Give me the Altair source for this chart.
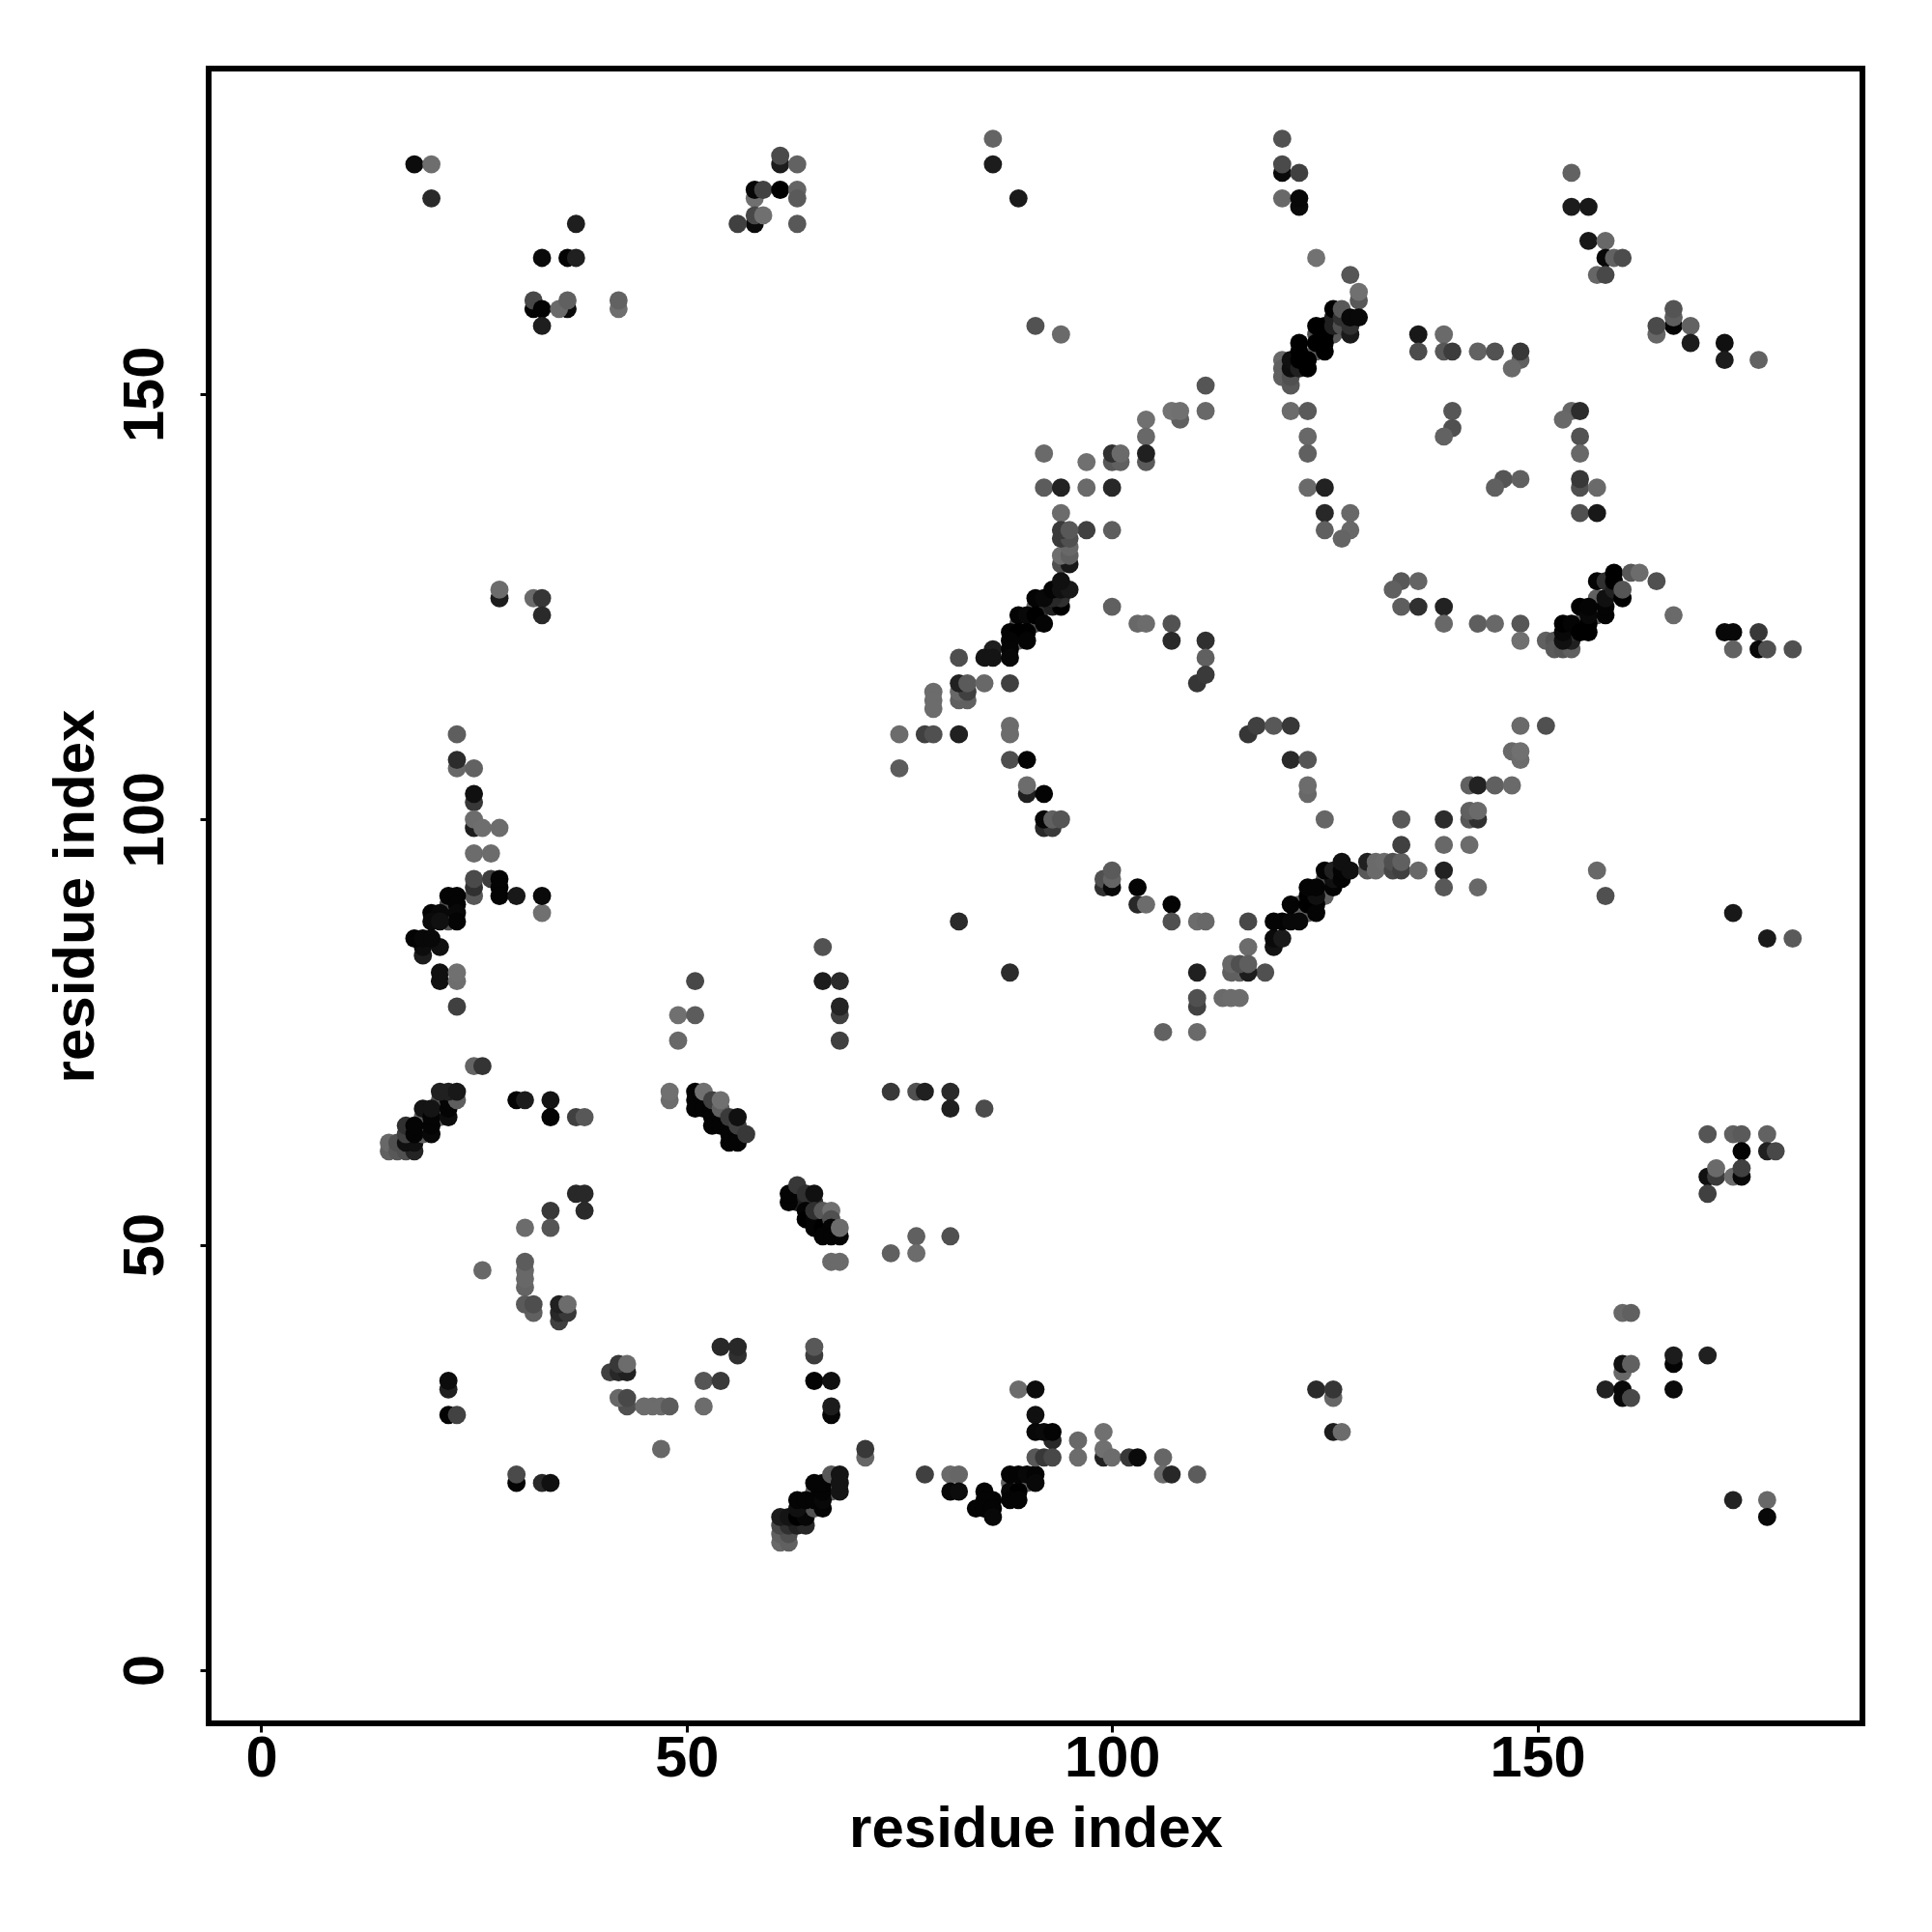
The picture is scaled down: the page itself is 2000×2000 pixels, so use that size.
import altair as alt
import pandas as pd

# Each contact: (residue x, residue y, grey level 0-255)
top_left = [
    (18,177,0x0c),(20,177,0x6e),(20,173,0x2a),(37,170,0x1e),(33,166,0x0a),(36,166,0x04),(37,166,0x20),
    (32,160,0x04),(32,161,0x48),(33,160,0x04),(33,158,0x1e),(36,160,0x0a),(35,160,0x6a),(36,161,0x60),
    (42,160,0x6e),(42,161,0x62),
    (61,177,0x1c),(61,178,0x4a),(63,177,0x62),(58,173,0x70),(58,174,0x06),(59,174,0x42),(61,174,0x00),
    (63,174,0x64),(63,173,0x5a),(58,170,0x0a),(58,171,0x48),(59,171,0x70),(56,170,0x40),(63,170,0x58),
    (28,126,0x1c),(28,127,0x6c),(32,126,0x6a),(33,126,0x36),(33,124,0x2a),
]
top_middle = [
    (86,180,0x64),(86,177,0x1c),(89,173,0x1a),(120,180,0x52),(120,176,0x0a),(120,177,0x4a),(122,176,0x40),
    (120,173,0x68),(122,172,0x0a),(122,173,0x08),(124,166,0x72),(128,164,0x56),(129,161,0x58),(129,162,0x70),
    (91,158,0x52),(94,157,0x6a),(111,151,0x55),(111,148,0x68),(108,147,0x60),(107,148,0x72),(108,148,0x70),
    (104,147,0x70),(104,145,0x68),(104,142,0x5a),(104,143,0x20),(100,142,0x58),(101,142,0x60),(100,143,0x30),
    (101,143,0x6a),(92,143,0x6a),(97,142,0x70),(92,139,0x5c),(94,139,0x22),(97,139,0x6a),(100,139,0x28),
    (121,148,0x6c),(123,148,0x5a),(123,145,0x68),(123,143,0x60),(123,139,0x6a),(125,139,0x22),(125,136,0x28),
    (125,134,0x60),(128,136,0x68),(128,134,0x68),(127,133,0x64),(94,136,0x6c),(97,134,0x40),(100,134,0x5e),
    (94,130,0x50),(95,130,0x18),(94,131,0x6e),(95,131,0x60),(95,132,0x68),(94,133,0x3a),(95,133,0x50),
    (94,134,0x3a),(95,134,0x58),
]
blob_upper = [
    (120,154,0x68),(120,153,0x60),(120,152,0x60),(121,151,0x58),(121,152,0x50),(121,153,0x0e),(121,154,0x10),
    (122,153,0x20),(124,157,0x50),(124,155,0x60),(126,157,0x58),(122,156,0x00),(122,155,0x00),(122,154,0x00),
    (123,154,0x00),(123,153,0x00),(124,158,0x00),(124,156,0x00),(125,158,0x00),(125,157,0x00),(125,156,0x00),
    (125,155,0x00),(126,158,0x20),(126,159,0x20),(126,160,0x00),(127,158,0x50),(127,159,0x30),(127,160,0x58),
    (128,157,0x1a),(128,158,0x30),(128,159,0x08),(129,159,0x08),
]
blob_middle = [
    (91,125,0x60),(91,123,0x50),(89,123,0x50),(89,121,0x60),(92,125,0x30),(93,125,0x20),(94,125,0x00),
    (94,126,0x30),(93,126,0x28),(91,126,0x04),(92,126,0x08),(93,127,0x04),(94,127,0x10),(95,127,0x18),
    (94,128,0x10),(89,124,0x04),(90,124,0x08),(91,124,0x00),(92,123,0x04),(88,122,0x04),(89,122,0x00),
    (90,122,0x00),(88,121,0x04),(90,121,0x04),(86,120,0x1e),(88,120,0x04),(85,119,0x14),(86,119,0x14),
    (88,119,0x08),(82,119,0x4e),
]
middle = [
    (82,114,0x60),(83,114,0x60),(82,115,0x68),(83,115,0x40),(82,116,0x20),(83,116,0x5a),(85,116,0x68),(88,116,0x40),
    (79,115,0x6c),(79,114,0x6c),(79,113,0x6c),(75,110,0x6c),(78,110,0x40),(79,110,0x50),(82,110,0x20),
    (88,111,0x6c),(88,110,0x6c),(75,106,0x5c),(88,107,0x4e),(90,107,0x04),(90,103,0x20),(90,104,0x6c),(92,103,0x04),
    (92,99,0x28),(93,99,0x3a),(92,100,0x06),(93,100,0x60),(94,100,0x55),
    (107,123,0x52),(107,121,0x2a),(111,121,0x30),(100,125,0x60),(103,123,0x68),(104,123,0x6c),
    (111,119,0x60),(110,116,0x36),(111,117,0x3a),(116,110,0x36),(117,111,0x40),(119,111,0x58),(121,111,0x38),
    (121,107,0x2a),(123,107,0x55),(123,103,0x68),(123,104,0x6c),(125,100,0x66),
    (99,92,0x30),(99,93,0x50),(100,92,0x08),(100,93,0x64),(100,94,0x5a),(103,92,0x04),(103,90,0x28),(104,90,0x6c),
    (107,90,0x04),(107,88,0x50),(110,88,0x6c),(111,88,0x68),(116,88,0x48),(82,88,0x2a),(88,82,0x2c),(110,82,0x20),
    (118,82,0x50),(116,85,0x6c),(114,82,0x60),(115,82,0x60),(116,82,0x1c),(114,83,0x68),(115,83,0x50),(116,83,0x5e),
    (110,78,0x42),(110,79,0x50),(113,79,0x6a),(114,79,0x6c),(115,79,0x6c),(106,75,0x62),(110,75,0x6a),
    (74,68,0x38),(77,68,0x50),(78,68,0x20),(81,68,0x2a),(81,66,0x20),(85,66,0x4c),
]
blob_lower = [
    (122,89,0x60),(123,89,0x60),(122,90,0x60),(125,93,0x50),(125,91,0x60),(119,85,0x12),(119,86,0x0a),(120,86,0x1a),
    (119,88,0x04),(120,88,0x04),(121,88,0x08),(122,88,0x08),(121,90,0x04),(123,90,0x00),(124,90,0x00),(124,89,0x04),
    (123,91,0x00),(124,91,0x10),(123,92,0x04),(124,92,0x04),(126,92,0x04),(126,93,0x10),(125,94,0x04),(126,94,0x20),
    (127,93,0x04),(127,94,0x04),(127,95,0x10),(128,94,0x10),
    (130,94,0x58),(130,95,0x20),(131,94,0x6a),(131,95,0x6a),(132,95,0x6c),(133,94,0x48),(133,95,0x50),
    (134,94,0x40),(134,95,0x60),(136,94,0x68),(139,94,0x22),(139,92,0x58),(143,92,0x68),
]
upper_right = [
    (154,176,0x62),(154,172,0x1c),(156,172,0x18),(156,168,0x18),(158,168,0x68),(158,166,0x08),(159,166,0x62),
    (160,166,0x4c),(157,164,0x66),(158,164,0x48),(166,158,0x04),(166,159,0x5e),(166,160,0x54),(164,157,0x66),
    (164,158,0x4a),(168,158,0x62),(168,156,0x1c),(172,156,0x10),(172,154,0x1c),(176,154,0x62),
    (136,157,0x18),(136,155,0x4c),(139,157,0x6a),(139,155,0x58),(140,155,0x3c),(143,155,0x62),(145,155,0x52),
    (148,154,0x60),(148,155,0x38),(147,153,0x6a),(140,148,0x56),(140,146,0x50),(139,145,0x62),
    (154,148,0x66),(155,148,0x2c),(153,147,0x68),(155,145,0x52),(155,143,0x68),(146,140,0x55),(148,140,0x60),
    (145,139,0x60),(155,139,0x50),(155,140,0x38),(157,139,0x6a),(155,136,0x50),(157,136,0x18),
    (134,128,0x58),(136,128,0x64),(133,127,0x60),(134,125,0x5e),(136,125,0x30),(139,125,0x22),(139,123,0x68),
    (143,123,0x5e),(145,123,0x68),(148,123,0x56),(148,121,0x70),
]
blob_right = [
    (151,121,0x60),(152,121,0x55),(152,120,0x5a),(153,120,0x55),(154,120,0x60),(155,123,0x60),(157,126,0x60),
    (157,124,0x60),(154,121,0x20),(154,122,0x30),(153,121,0x10),(153,122,0x08),(153,123,0x00),(154,123,0x04),
    (155,122,0x00),(155,125,0x00),(156,122,0x00),(156,123,0x00),(156,124,0x08),(156,125,0x04),(158,124,0x04),
    (158,125,0x04),(158,126,0x10),(157,128,0x04),(158,128,0x30),(159,127,0x20),(159,128,0x00),(159,129,0x00),
    (160,126,0x00),(160,127,0x55),(161,129,0x58),(162,129,0x6c),(164,128,0x50),(166,124,0x6a),
    (172,122,0x08),(173,122,0x08),(176,122,0x38),(173,120,0x62),(176,120,0x08),(177,120,0x50),(180,120,0x50),
]
right_middle = [
    (134,100,0x58),(139,100,0x2c),(142,100,0x58),(143,100,0x30),(142,101,0x60),(143,101,0x6a),(134,97,0x40),
    (139,97,0x68),(142,97,0x6c),(142,104,0x60),(143,104,0x22),(145,104,0x60),(147,104,0x6a),(147,108,0x68),
    (148,107,0x6c),(148,108,0x70),(148,111,0x6a),(151,111,0x50),(157,94,0x68),(158,91,0x50),(173,89,0x18),
    (177,86,0x1a),(180,86,0x5a),
    (170,63,0x55),(173,63,0x60),(174,63,0x5a),(177,63,0x62),(174,61,0x04),(177,61,0x20),(178,61,0x48),
    (170,58,0x10),(171,58,0x3a),(171,59,0x6a),(173,58,0x6c),(174,58,0x08),(174,59,0x40),(170,56,0x40),
]
lower_right = [
    (160,42,0x68),(161,42,0x60),(160,35,0x68),(160,36,0x10),(161,36,0x60),(158,33,0x22),(160,33,0x08),(160,32,0x08),
    (161,32,0x48),(166,36,0x04),(166,37,0x1c),(166,33,0x0a),(170,37,0x20),(173,20,0x22),(177,20,0x68),(177,18,0x08),
    (124,33,0x2a),(126,32,0x66),(126,33,0x36),(126,28,0x1c),(127,28,0x6c),
]
lower_middle = [
    (74,49,0x60),(77,51,0x60),(77,49,0x6c),(81,51,0x50),(78,23,0x40),(81,23,0x6a),(82,23,0x66),(81,21,0x08),(82,21,0x0c),
    (85,21,0x04),(85,20,0x04),(86,20,0x04),(84,19,0x04),(85,19,0x04),(86,19,0x04),(86,18,0x08),
    (88,22,0x60),(90,22,0x60),(88,21,0x08),(89,21,0x00),(88,20,0x04),(89,20,0x04),(88,23,0x04),(89,23,0x04),
    (90,23,0x08),(91,23,0x04),(91,22,0x08),
    (89,33,0x6c),(91,33,0x0c),(91,30,0x10),(93,27,0x28),(91,28,0x08),(92,28,0x0a),(93,28,0x04),
    (91,25,0x58),(92,25,0x38),(93,25,0x48),(96,27,0x68),(96,25,0x6c),(99,25,0x20),(99,28,0x70),(99,26,0x70),(100,25,0x6c),
    (102,25,0x38),(103,25,0x0a),(106,25,0x66),(106,23,0x6c),(107,23,0x28),(110,23,0x5c),
]
lower_left = [
    (37,56,0x28),(38,56,0x28),(38,54,0x2a),(34,54,0x38),(34,52,0x55),(31,52,0x6c),(26,47,0x68),
    (31,45,0x64),(31,46,0x68),(31,47,0x68),(31,48,0x5c),(32,42,0x60),(31,43,0x5a),(32,43,0x4e),
    (35,41,0x40),(35,42,0x28),(36,42,0x38),(35,43,0x20),(36,43,0x6c),
    (54,38,0x28),(56,37,0x30),(56,38,0x28),(65,37,0x3c),(65,38,0x58),(65,34,0x04),(67,34,0x10),(67,30,0x06),(67,31,0x1c),
    (52,34,0x55),(54,34,0x3a),(52,31,0x6c),
    (41,35,0x40),(42,35,0x28),(43,35,0x20),(42,36,0x38),(43,36,0x6c),(43,31,0x50),(42,32,0x68),(43,32,0x48),
    (45,31,0x6c),(46,31,0x6c),(47,31,0x6c),(48,31,0x5c),(47,26,0x68),
    (22,33,0x20),(22,34,0x0c),(22,30,0x04),(23,30,0x42),(30,22,0x04),(30,23,0x4a),(33,22,0x28),(34,22,0x10),
    (71,25,0x66),(71,26,0x38),
]
blob_bottom = [
    (61,15,0x68),(62,15,0x60),(61,16,0x60),(62,16,0x50),(61,17,0x48),(62,17,0x30),(63,17,0x20),(64,17,0x28),
    (61,18,0x1c),(62,18,0x14),(63,18,0x00),(64,18,0x06),(65,19,0x50),(63,19,0x10),(65,21,0x60),(67,21,0x60),
    (63,20,0x04),(64,20,0x04),(65,20,0x04),(66,19,0x04),(66,20,0x08),(66,21,0x04),(65,22,0x04),(66,22,0x04),
    (67,23,0x58),(68,21,0x14),(68,22,0x14),(68,23,0x14),
]
blob_helix = [
    (63,55,0x20),(65,55,0x30),(62,55,0x04),(62,56,0x04),(63,57,0x38),(64,56,0x30),(65,56,0x10),(64,54,0x04),
    (64,53,0x00),(65,53,0x04),(65,52,0x04),(65,54,0x30),(66,54,0x58),(67,54,0x70),(66,52,0x00),(67,53,0x50),
    (67,52,0x04),(66,51,0x04),(67,51,0x04),(68,51,0x04),(68,52,0x6c),(67,48,0x6a),(68,48,0x6a),
]
left_upper = [
    (23,110,0x5e),(23,106,0x68),(23,107,0x2c),(25,106,0x62),(25,102,0x38),(25,103,0x10),(25,99,0x1c),(25,100,0x6c),
    (26,99,0x6e),(28,99,0x6c),(25,96,0x6c),(27,96,0x6c),(25,91,0x58),(25,92,0x30),(25,93,0x4a),(27,93,0x3e),
    (28,93,0x04),(28,92,0x04),(28,91,0x04),(30,91,0x18),(33,89,0x70),(33,91,0x0a),
    (22,90,0x50),(22,88,0x50),(22,91,0x04),(23,91,0x04),(23,90,0x04),(23,89,0x08),(23,88,0x04),(20,89,0x04),
    (21,89,0x08),(20,88,0x0a),(21,88,0x10),(19,84,0x1c),(19,85,0x0c),(21,85,0x10),(18,86,0x04),(19,86,0x08),
    (20,86,0x08),(21,81,0x10),(21,82,0x10),(23,81,0x6e),(23,82,0x70),(23,78,0x40),(25,71,0x64),(26,71,0x34),
]
left_lower = [
    (15,61,0x60),(15,62,0x68),(16,61,0x58),(16,62,0x50),(17,61,0x50),(18,61,0x24),(17,62,0x10),(18,62,0x10),
    (17,63,0x40),(17,64,0x30),(19,63,0x60),(19,65,0x60),(21,65,0x60),(21,67,0x50),(18,63,0x04),(18,64,0x04),
    (20,63,0x08),(20,64,0x04),(19,66,0x14),(20,65,0x04),(20,66,0x14),(22,65,0x0c),(22,66,0x04),(22,67,0x04),
    (23,67,0x5e),(21,68,0x20),(22,68,0x20),(23,68,0x18),
    (30,67,0x04),(31,67,0x1c),(34,67,0x14),(34,65,0x04),(37,65,0x40),(38,65,0x58),(48,67,0x6c),(48,68,0x70),
]
center_left = [
    (51,68,0x04),(51,67,0x04),(51,66,0x04),(52,66,0x04),(53,66,0x04),(53,65,0x04),(53,64,0x04),(54,65,0x04),
    (54,64,0x04),(55,64,0x04),(55,63,0x04),(55,62,0x04),(56,63,0x04),(56,62,0x04),(52,68,0x70),(53,67,0x40),
    (54,66,0x60),(54,67,0x70),(55,65,0x3a),(56,64,0x40),(56,65,0x10),(57,63,0x38),
    (51,81,0x48),(49,77,0x70),(51,77,0x5c),(49,74,0x68),(66,85,0x52),(66,81,0x1c),(68,81,0x2a),(68,77,0x40),
    (68,78,0x24),(68,74,0x40),
]

clusters = [top_left, top_middle, blob_upper, blob_middle, middle, blob_lower, upper_right, blob_right,
            right_middle, lower_right, lower_middle, lower_left, blob_bottom, blob_helix, left_upper,
            left_lower, center_left]
rows = [p for c in clusters for p in c]
df = pd.DataFrame({
    "x": [p[0] for p in rows],
    "y": [p[1] for p in rows],
    "shade": ["#{0:02x}{0:02x}{0:02x}".format(p[2]) for p in rows],
})

tick_values = [0, 50, 100, 150]
font = "Liberation Sans"

def axis(**kw):
    return alt.Axis(values=tick_values, domain=False, grid=False, tickSize=9, tickWidth=3, tickColor="black",
                    labelFont=font, labelFontWeight="bold", labelFontSize=59.5, labelColor="black",
                    labelOverlap=False, labelFlush=False, titleFont=font, titleFontWeight="bold",
                    titleFontSize=60, titleColor="black", **kw)

chart = (
    alt.Chart(df)
    .mark_circle(size=355, opacity=1)
    .encode(
        x=alt.X("x:Q", title="residue index", scale=alt.Scale(domain=[-6.18, 188.2], nice=False, zero=False),
                axis=axis(labelPadding=-1.5, titlePadding=14)),
        y=alt.Y("y:Q", title="residue index", scale=alt.Scale(domain=[-6.25, 188.25], nice=False, zero=False),
                axis=axis(labelAngle=270, labelAlign="center", labelBaseline="bottom", labelPadding=27, titlePadding=11)),
        color=alt.Color("shade:N", scale=None),
    )
    .properties(width=1712, height=1713,
                autosize=alt.AutoSizeParams(type="none"),
                padding={"left": 208, "top": 63, "right": 60, "bottom": 200},
                background="white")
    .configure_view(stroke="black", strokeWidth=6)
)

chart.save("out.html", embed_options={"renderer": "svg", "actions": False})
